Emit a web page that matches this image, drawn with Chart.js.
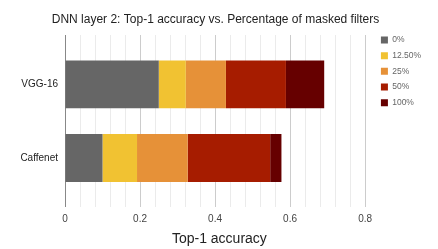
<!DOCTYPE html>
<html lang="en">
<head>
  <meta charset="UTF-8">
  <title>DNN layer 2: Top-1 accuracy</title>
  <script src="https://cdn.jsdelivr.net/npm/chart.js"></script>
  <style>
    html, body { margin: 0; padding: 0; background: #fff; }
    canvas { display: block; }
  </style>
</head>
<body>
  <canvas id="myChart" width="438" height="249"></canvas>

  <script>
    // Networks (one bar each, top to bottom)
    var networks = ['VGG-16', 'Caffenet'];

    // Percentage of masked filters (stack segments)
    var maskLabels = ['0%', '12.50%', '25%', '50%', '100%'];

    // Segment lengths, [VGG-16, Caffenet]
    var acc0   = [0.25, 0.10];
    var acc12  = [0.072, 0.092];
    var acc25  = [0.107, 0.135];
    var acc50  = [0.16, 0.22];
    var acc100 = [0.102, 0.03];

    // Labelled x ticks
    var xTickLabels = [0, 0.2, 0.4, 0.6, 0.8];

    var segColors = ['#666666', '#f1c232', '#e69138', '#a61c00', '#660000'];
    var font = 'Liberation Sans, Arial, sans-serif';

    var series = [acc0, acc12, acc25, acc50, acc100];

    var datasets = series.map(function (vals, k) {
      return {
        label: maskLabels[k],
        data: vals.map(function (v, i) { return { x: v, y: i }; }),
        backgroundColor: segColors[k],
        borderWidth: 0,
        barPercentage: 0.65,
        categoryPercentage: 1
      };
    });

    function isMajor(v) {
      return xTickLabels.some(function (t) { return Math.abs(t - v) < 1e-6; });
    }

    var ctx = document.getElementById('myChart').getContext('2d');
    var myChart = new Chart(ctx, {
      type: 'bar',
      data: { datasets: datasets },
      options: {
        indexAxis: 'y',
        responsive: false,
        animation: false,
        devicePixelRatio: 1,
        layout: { padding: { left: 0, right: 7, top: 0, bottom: 0 } },
        plugins: {
          title: {
            display: true,
            text: 'DNN layer 2: Top-1 accuracy vs. Percentage of masked filters',
            color: '#222',
            font: { family: font, size: 12, weight: 'normal' },
            padding: { top: 12, bottom: 8.6 }
          },
          legend: {
            position: 'right',
            align: 'start',
            title: {
              display: true,
              text: ' ',
              font: { size: 10 },
              padding: { top: 16.5, bottom: 0 }
            },
            labels: {
              boxWidth: 7,
              boxHeight: 7,
              padding: 7.2,
              color: '#666',
              font: { family: font, size: 8.5 }
            }
          },
          tooltip: { enabled: false }
        },
        scales: {
          x: {
            type: 'linear',
            stacked: true,
            min: 0,
            max: 0.823,
            afterBuildTicks: function (scale) {
              var t = [];
              for (var i = 0; i <= 20; i++) t.push({ value: Math.round(i * 4) / 100 });
              scale.ticks = t;
            },
            afterFit: function (scale) { scale.height = 42.3; },
            ticks: {
              padding: 6.3,
              color: '#444',
              font: { family: font, size: 10 },
              autoSkip: false,
              maxRotation: 0,
              callback: function (v) { return isMajor(v) ? String(Math.round(v * 10) / 10) : ''; }
            },
            grid: {
              drawTicks: false,
              color: function (c) { return isMajor(c.tick.value) ? '#cccccc' : '#ebebeb'; }
            },
            border: { display: false },
            title: {
              display: true,
              text: 'Top-1 accuracy',
              color: '#222',
              font: { family: font, size: 14 },
              padding: { top: 0, bottom: 1.6 }
            }
          },
          y: {
            type: 'linear',
            stacked: true,
            reverse: true,
            offset: false,
            min: -0.67,
            max: 1.66,
            afterBuildTicks: function (scale) {
              scale.ticks = networks.map(function (n, i) { return { value: i }; });
            },
            afterFit: function (scale) { scale.width = 65; },
            ticks: {
              padding: 7,
              color: '#222',
              font: { family: font, size: 10 },
              callback: function (v) { return networks[v]; }
            },
            grid: { display: false, drawTicks: false, offset: false },
            border: { display: true, color: '#888888', width: 1 }
          }
        }
      }
    });
  </script>
</body>
</html>
